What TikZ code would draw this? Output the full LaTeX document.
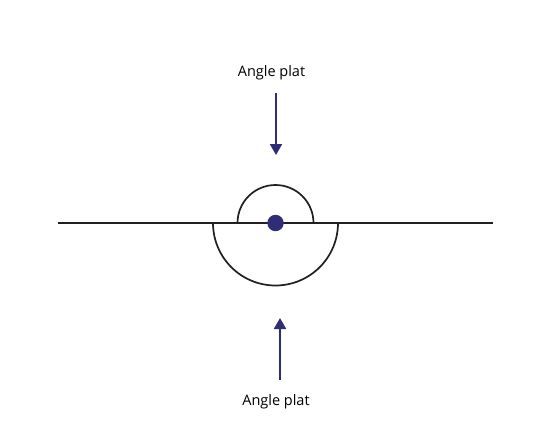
\documentclass[tikz,border=0pt]{standalone}
\usepackage{fontspec}
\setmainfont{Open Sans}
\usetikzlibrary{arrows.meta}
\definecolor{navy}{HTML}{2E2D75}
\definecolor{ink}{HTML}{231F20}
\tikzset{
    arrowline/.style={draw=navy,line width=1.9pt,-{Triangle[length=11pt,width=12pt]}},
    label/.style={font=\fontsize{14.5}{17}\selectfont,text=black}
}
\begin{document}
\begin{tikzpicture}[x=1pt,y=-1pt]
        \useasboundingbox (0,0) rectangle (551,447);
        \def\r{38}
        \def\R{62.5}
        %% straight line
        \coordinate (O) at (275.5,223);
        \draw[ink,line width=1.7pt] (58,223) -- (493,223);
        %% angles
        \draw[ink,line width=1.7pt] ([xshift=\r pt]O) arc (0:180:\r pt);
        \draw[ink,line width=1.7pt] ([xshift=\R pt]O) arc (0:-180:\R pt);
        \fill[navy] (O) circle (8.2pt);
        %% labels
        \node[label] (top) at (271.5,73) {Angle plat};
        \node[label] (bottom) at (276,401.5) {Angle plat};
        \coordinate (topend) at (276,155);
        \coordinate (bottomend) at (280,318);
        \draw[arrowline] (top.south -| topend) ++(0,9) -- (topend);
        \draw[arrowline] (bottom.north -| bottomend) ++(0,-11) -- (bottomend);
\end{tikzpicture}
\end{document}
